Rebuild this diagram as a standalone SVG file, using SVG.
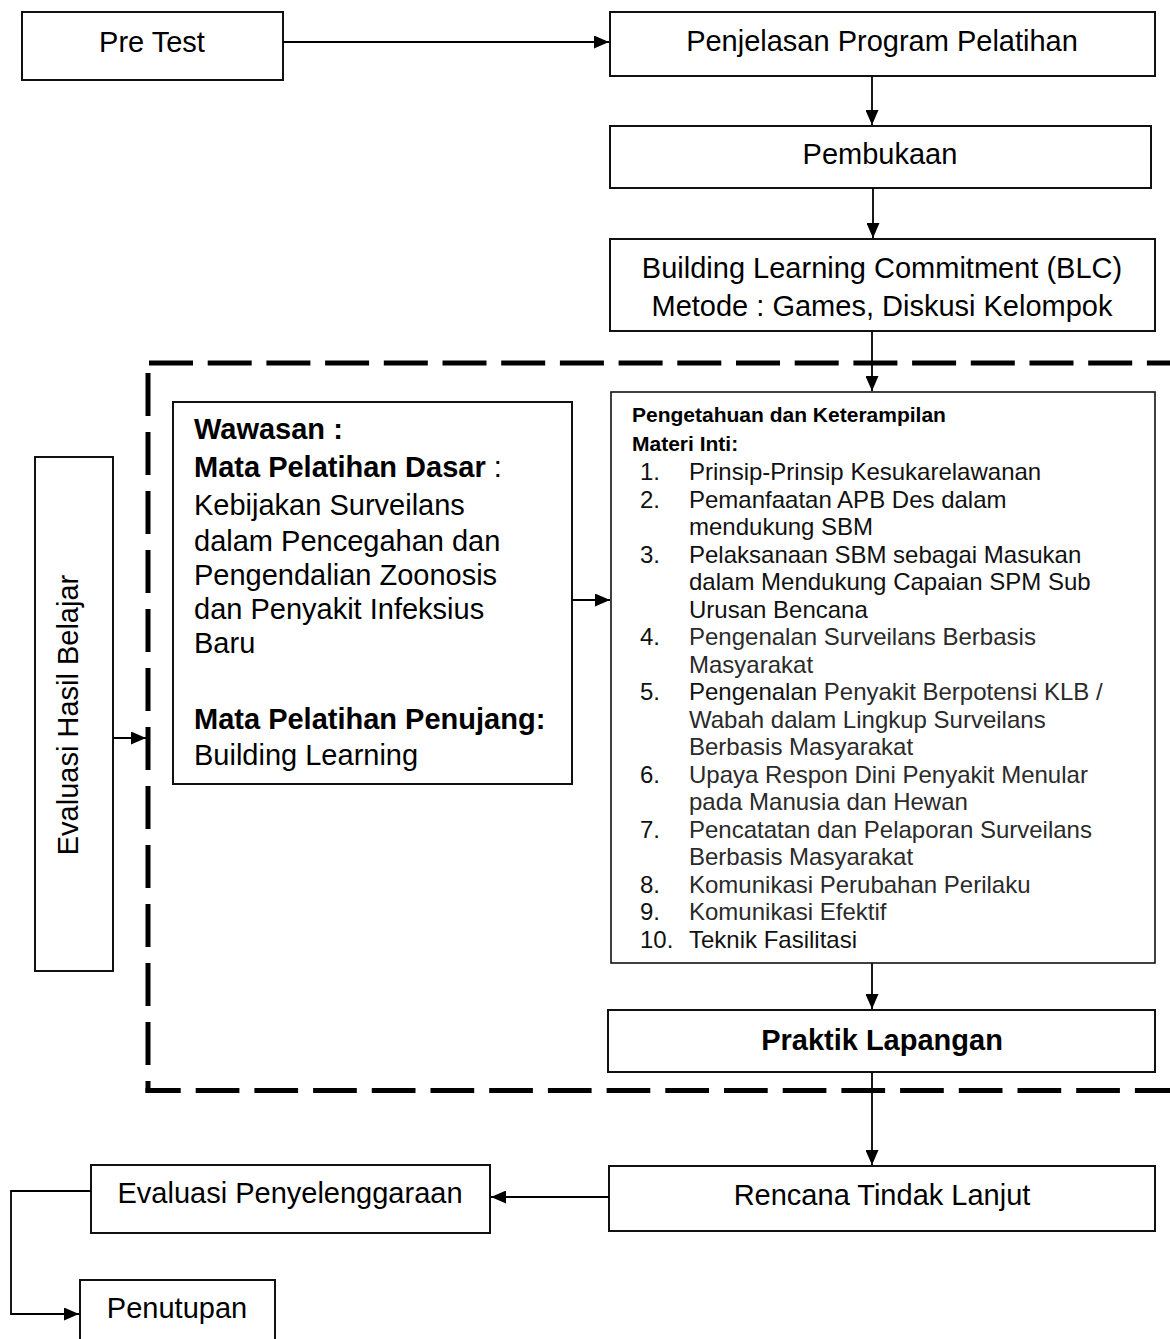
<svg xmlns="http://www.w3.org/2000/svg" width="1170" height="1339" viewBox="0 0 1170 1339">
<defs>
<marker id="ah" markerWidth="15" markerHeight="13" refX="15" refY="6.5" orient="auto" markerUnits="userSpaceOnUse">
<path d="M0,0 L15,6.5 L0,13 z" fill="#000"/>
</marker>
<style>
.box{fill:#fff;stroke:#111;stroke-width:2}
.t{font-family:"Liberation Sans",Arial,Helvetica,sans-serif;font-size:29px;fill:#000}
.c{text-anchor:middle}
.b{font-weight:bold}
.s{font-family:"Liberation Sans",Arial,Helvetica,sans-serif;font-size:24px;fill:#111}
.h{font-family:"Liberation Sans",Arial,Helvetica,sans-serif;font-size:21px;font-weight:bold;fill:#000}
.arr{fill:none;stroke:#000;stroke-width:1.8;marker-end:url(#ah)}
.dash{fill:none;stroke:#000;stroke-width:5}
</style>
</defs>
<rect width="1170" height="1339" fill="#fff"/>

<g id="dashed-frame">
<path class="dash" d="M149,363 H1172" stroke-dasharray="44 14.7"/>
<path class="dash" d="M148,373 V1092.5" stroke-dasharray="43 16"/>
<path class="dash" d="M145.5,1090.5 H1172" stroke-dasharray="43.7 15" stroke-dashoffset="8.5"/>
</g>

<g id="pretest">
<rect class="box" x="22" y="12" width="261" height="68"/>
<text class="t c" x="152" y="52">Pre Test</text>
</g>

<g id="penjelasan">
<rect class="box" x="610" y="12" width="545" height="64"/>
<text class="t c" x="882" y="51">Penjelasan Program Pelatihan</text>
</g>

<g id="pembukaan">
<rect class="box" x="610" y="126" width="541" height="62"/>
<text class="t c" x="880" y="164">Pembukaan</text>
</g>

<g id="blc">
<rect class="box" x="610" y="239" width="545" height="92"/>
<text class="t c" x="882" y="278">Building Learning Commitment (BLC)</text>
<text class="t c" x="882" y="316">Metode : Games, Diskusi Kelompok</text>
</g>

<g id="evaluasi-hasil">
<rect class="box" x="35" y="457" width="78" height="514"/>
<text class="t c" transform="translate(78,715) rotate(-90)" x="0" y="0">Evaluasi Hasil Belajar</text>
</g>

<g id="wawasan">
<rect class="box" x="173" y="402" width="399" height="382"/>
<text class="t b" x="194" y="439">Wawasan :</text>
<text class="t" x="194" y="477"><tspan class="b">Mata Pelatihan Dasar</tspan> :</text>
<text class="t" x="194" y="515">Kebijakan Surveilans</text>
<text class="t" x="194" y="551">dalam Pencegahan dan</text>
<text class="t" x="194" y="585">Pengendalian Zoonosis</text>
<text class="t" x="194" y="619">dan Penyakit Infeksius</text>
<text class="t" x="194" y="653">Baru</text>
<text class="t b" x="194" y="729">Mata Pelatihan Penujang:</text>
<text class="t" x="194" y="765">Building Learning</text>
</g>

<g id="materi-inti">
<rect class="box" x="611" y="392" width="544" height="571" style="stroke-width:1.6"/>
<text class="h" x="632" y="422">Pengetahuan dan Keterampilan</text>
<text class="h" x="632" y="451">Materi Inti:</text>
<g class="s">
<text x="640" y="480">1.</text><text x="689" y="480">Prinsip-Prinsip Kesukarelawanan</text>
<text x="640" y="507.5">2.</text><text x="689" y="507.5">Pemanfaatan APB Des dalam</text>
<text x="689" y="535">mendukung SBM</text>
<text x="640" y="562.5">3.</text><text x="689" y="562.5">Pelaksanaan SBM sebagai Masukan</text>
<text x="689" y="590">dalam Mendukung Capaian SPM Sub</text>
<text x="689" y="617.5">Urusan Bencana</text>
<text x="640" y="645">4.</text><text x="689" y="645" fill="#2a2a2a">Pengenalan Surveilans Berbasis</text>
<text x="689" y="672.5" fill="#2a2a2a">Masyarakat</text>
<text x="640" y="700">5.</text><text x="689" y="700">Pengenalan <tspan fill="#2a2a2a">Penyakit Berpotensi KLB /</tspan></text>
<text x="689" y="727.5" fill="#2a2a2a">Wabah dalam Lingkup Surveilans</text>
<text x="689" y="755" fill="#2a2a2a">Berbasis Masyarakat</text>
<text x="640" y="782.5">6.</text><text x="689" y="782.5" fill="#2a2a2a">Upaya Respon Dini Penyakit Menular</text>
<text x="689" y="810" fill="#2a2a2a">pada Manusia dan Hewan</text>
<text x="640" y="837.5">7.</text><text x="689" y="837.5" fill="#2a2a2a">Pencatatan dan Pelaporan Surveilans</text>
<text x="689" y="865" fill="#2a2a2a">Berbasis Masyarakat</text>
<text x="640" y="892.5">8.</text><text x="689" y="892.5" fill="#2a2a2a">Komunikasi Perubahan Perilaku</text>
<text x="640" y="920">9.</text><text x="689" y="920" fill="#2a2a2a">Komunikasi Efektif</text>
<text x="640" y="947.5">10.</text><text x="689" y="947.5">Teknik Fasilitasi</text>
</g>
</g>

<g id="praktik">
<rect class="box" x="608" y="1010" width="547" height="62"/>
<text class="t c b" x="882" y="1050">Praktik Lapangan</text>
</g>

<g id="rtl">
<rect class="box" x="609" y="1166" width="546" height="65"/>
<text class="t c" x="882" y="1205">Rencana Tindak Lanjut</text>
</g>

<g id="evaluasi-penyelenggaraan">
<rect class="box" x="91" y="1165" width="399" height="68"/>
<text class="t c" x="290" y="1203">Evaluasi Penyelenggaraan</text>
</g>

<g id="penutupan">
<rect class="box" x="80" y="1280" width="195" height="70"/>
<text class="t c" x="177" y="1318">Penutupan</text>
</g>

<g id="connectors">
<path class="arr" d="M283,42 H609"/>
<path class="arr" d="M872,76 V125"/>
<path class="arr" d="M873,188 V238"/>
<path class="arr" d="M872,331 V391"/>
<path class="arr" d="M572,600 H610"/>
<path class="arr" d="M113,738 H146"/>
<path class="arr" d="M872,963 V1009"/>
<path class="arr" d="M872,1072 V1165"/>
<path class="arr" d="M609,1197 H491"/>
<path class="arr" d="M91,1191 H11 V1314 H79"/>
</g>
</svg>
